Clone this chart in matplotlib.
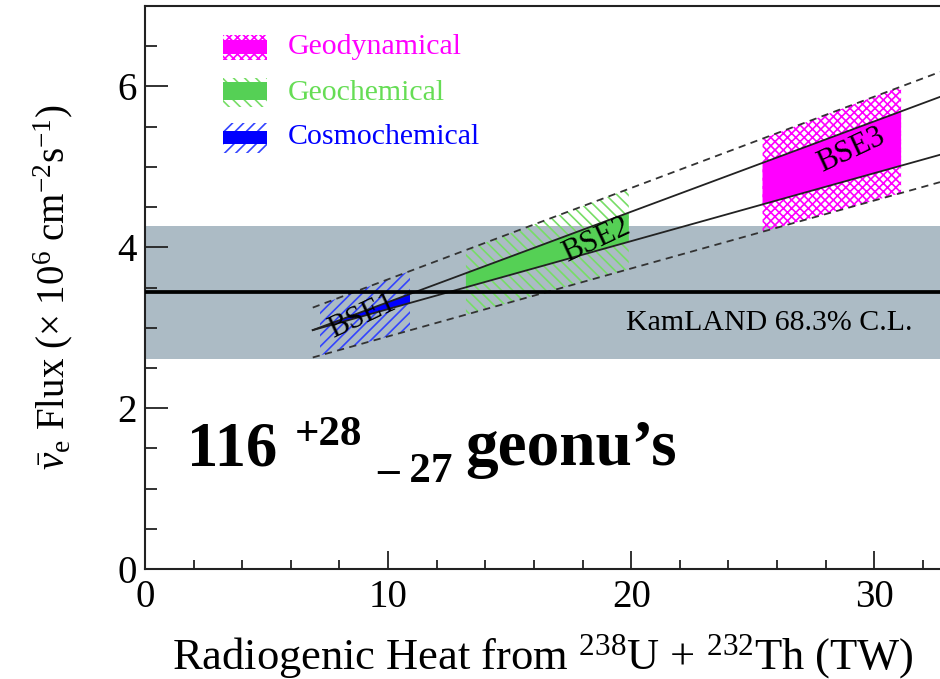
import matplotlib
matplotlib.use("Agg")
import matplotlib.pyplot as plt
from matplotlib.patches import Rectangle
from matplotlib.ticker import MultipleLocator
import numpy as np

plt.rcParams['font.family'] = ['Liberation Serif', 'DejaVu Serif']
plt.rcParams['mathtext.fontset'] = 'custom'
plt.rcParams['mathtext.rm'] = 'Liberation Serif'
plt.rcParams['mathtext.it'] = 'Liberation Serif:italic'
plt.rcParams['mathtext.bf'] = 'Liberation Serif:bold'
plt.rcParams['hatch.linewidth'] = 1.2

# model lines (heat in TW -> flux in 1e6 cm^-2 s^-1)
line_x = [6.9, 32.7]
upper_solid = [2.97, 5.87]
lower_solid = [2.97, 5.15]
upper_dash = [3.25, 6.18]
lower_dash = [2.63, 4.81]

# KamLAND measurement
kam_center = 3.44
kam_low = 2.61
kam_high = 4.27

# BSE model ranges (TW)
bse_names = ["BSE1", "BSE2", "BSE3"]
bse_ranges = [(7.2, 10.9), (13.2, 19.9), (25.4, 31.1)]
bse_fill = ["#0000ff", "#55d055", "#ff00ff"]
bse_hatch_col = ["#3344ff", "#77dd66", "#ff00ff"]
bse_hatch = ["///", "\\\\\\", "xxxx"]
legend_names = ["Geodynamical", "Geochemical", "Cosmochemical"]
legend_order = [2, 1, 0]

W, H = 940, 679
fig = plt.figure(figsize=(W / 100, H / 100), dpi=100)
ax = fig.add_axes([145 / W, 1 - 569 / H, 1 - 145 / W, (569 - 6) / H])


def fpos(px, py):
    return px / W, 1 - py / H


ax.axhspan(kam_low, kam_high, color="#acbbc5", lw=0, zorder=0.5)
ax.axhline(kam_center, color="black", lw=2.7, zorder=4)

for i, (x0, x1) in enumerate(bse_ranges):
    xs = np.array([x0, x1])
    ax.fill_between(xs, np.interp(xs, line_x, lower_dash), np.interp(xs, line_x, upper_dash),
                    facecolor="none", edgecolor=bse_hatch_col[i], hatch=bse_hatch[i], lw=0, zorder=1)
    ax.fill_between(xs, np.interp(xs, line_x, lower_solid), np.interp(xs, line_x, upper_solid),
                    facecolor=bse_fill[i], lw=0, zorder=2)

ax.plot(line_x, upper_solid, color="#222222", lw=1.3, zorder=3)
ax.plot(line_x, lower_solid, color="#222222", lw=1.3, zorder=3)
ax.plot(line_x, upper_dash, color="#333333", lw=1.3, ls=(0, (4, 3)), zorder=3)
ax.plot(line_x, lower_dash, color="#333333", lw=1.3, ls=(0, (4, 3)), zorder=3)

# BSE labels
label_pos = [(362, 316), (596, 240), (851, 150)]
for name, (px, py) in zip(bse_names, label_pos):
    fig.text(*fpos(px, py), name, fontsize=22, rotation=25, ha="center", va="center", zorder=6)

fig.text(*fpos(913, 323), "KamLAND 68.3% C.L.", fontsize=21.5, ha="right", va="center")

# legend (drawn by hand to mimic hatched boxes)
leg_rows = [(35, 60, 40, 54), (78, 107, 82, 100), (123, 153, 131, 144)]
leg_text_y = [47, 93, 137]
for row, k in enumerate(legend_order):
    yt, yb, st, sb = leg_rows[row]
    x0, y0 = fpos(223, yb)
    x1, y1 = fpos(267, yt)
    fig.add_artist(Rectangle((x0, y0), x1 - x0, y1 - y0, transform=fig.transFigure,
                             facecolor="none", edgecolor=bse_hatch_col[k], hatch=bse_hatch[k], lw=0))
    sx0, sy0 = fpos(223, sb)
    sx1, sy1 = fpos(267, st)
    fig.add_artist(Rectangle((sx0, sy0), sx1 - sx0, sy1 - sy0, transform=fig.transFigure,
                             facecolor=bse_fill[k], lw=0))
    fig.text(*fpos(288, leg_text_y[row]), legend_names[row], fontsize=21.5,
             color=bse_fill[k] if k != 1 else "#66dd55", ha="left", va="center")

# big count text
fig.text(*fpos(187, 465), "116", fontsize=45, fontweight="bold", ha="left", va="baseline")
fig.text(*fpos(295, 445), "+28", fontsize=31, fontweight="bold", ha="left", va="baseline")
fig.text(*fpos(377, 482), "\u2013 27", fontsize=31, fontweight="bold", ha="left", va="baseline")
fig.text(*fpos(465, 465), "geonu\u2019s", fontsize=47, fontweight="bold", ha="left", va="baseline")

ax.set_xlim(0, 32.7)
ax.set_ylim(0, 7)
ax.xaxis.set_major_locator(MultipleLocator(10))
ax.xaxis.set_minor_locator(MultipleLocator(2))
ax.yaxis.set_major_locator(MultipleLocator(2))
ax.yaxis.set_minor_locator(MultipleLocator(0.5))
ax.tick_params(axis="x", which="major", direction="in", length=12.7, width=1.3, labelsize=28, pad=7, colors="#222222")
ax.tick_params(axis="x", which="minor", direction="in", length=6.5, width=1.3, colors="#222222")
ax.tick_params(axis="y", which="major", direction="in", length=16.5, width=1.3, labelsize=28, pad=6, colors="#222222")
ax.tick_params(axis="y", which="minor", direction="in", length=8.6, width=1.3, colors="#222222")
ax.tick_params(labelcolor="black")
for s in ["left", "bottom", "top"]:
    ax.spines[s].set_linewidth(1.5)
    ax.spines[s].set_color("#222222")
ax.spines["right"].set_visible(False)

ax.set_xlabel(r"Radiogenic Heat from $^{238}$U + $^{232}$Th (TW)", fontsize=32)
ax.xaxis.set_label_coords(0.5, -0.112)
ax.set_ylabel(r"$\bar{\nu}_{\rm e}$ Flux ($\times$ 10$^{6}$ cm$^{-2}$s$^{-1}$)", fontsize=28)
ax.yaxis.set_label_coords(-0.088, 0.5)

fig.savefig("out.png", dpi=100)
